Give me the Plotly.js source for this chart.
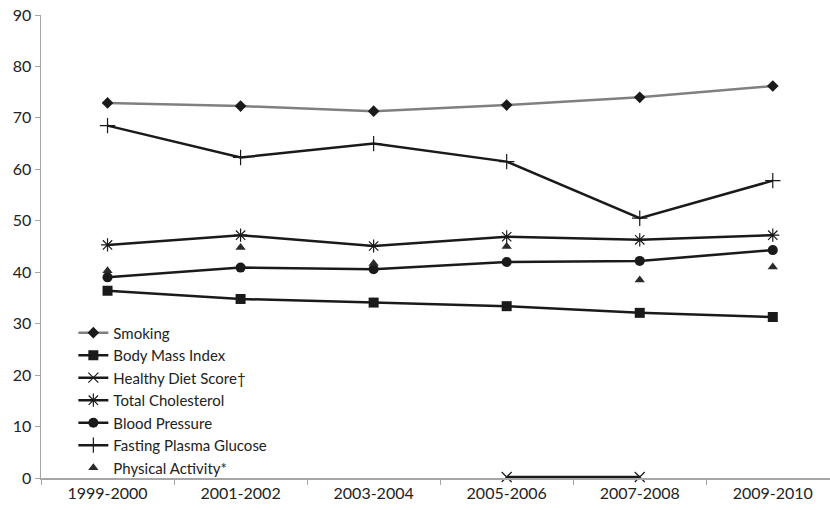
<!DOCTYPE html>
<html><head><meta charset="utf-8">
<script src="https://cdn.plot.ly/plotly-3.0.1.min.js"></script>
<style>html,body{margin:0;padding:0;background:#fff}#c{width:830px;height:510px}</style>
</head><body><div id="c"></div>
<script>
const periods = ["1999-2000","2001-2002","2003-2004","2005-2006","2007-2008","2009-2010"];
const smoking = [72.9, 72.3, 71.3, 72.5, 74.0, 76.2];
const bodyMassIndex = [36.4, 34.8, 34.1, 33.4, 32.1, 31.3];
const healthyDietScore = [null, null, null, 0.2, 0.2, null];
const totalCholesterol = [45.3, 47.2, 45.1, 46.9, 46.3, 47.2];
const bloodPressure = [39.0, 40.9, 40.6, 42.0, 42.2, 44.3];
const fastingPlasmaGlucose = [68.5, 62.3, 65.0, 61.5, 50.5, 57.8];
const physicalActivity = [40.3, 44.8, 41.7, 45.0, 38.5, 41.0];

const font = "Lato, 'Open Sans', sans-serif";
const blk = "#1a1a1a";
function line(name, y, sym, size, lineColor, markerColor, open) {
  return {
    type: "scatter", mode: "lines+markers", name: name, x: periods, y: y,
    line: {color: lineColor, width: 2.5},
    marker: {symbol: sym, size: size, color: markerColor,
             line: {color: markerColor, width: open ? 1.2 : 0}},
    connectgaps: false, cliponaxis: false
  };
}
const data = [
  line("Smoking", smoking, "diamond", 9, "#808080", blk, false),
  line("Body Mass Index", bodyMassIndex, "square", 10, blk, blk, false),
  line("Healthy Diet Score†", healthyDietScore, "x-thin-open", 10, blk, blk, true),
  line("Total Cholesterol", totalCholesterol, "asterisk-open", 11, blk, blk, true),
  line("Blood Pressure", bloodPressure, "circle", 10, blk, blk, false),
  line("Fasting Plasma Glucose", fastingPlasmaGlucose, "cross-thin-open", 11, blk, blk, true),
  {type: "scatter", mode: "markers", name: "Physical Activity*", x: periods, y: physicalActivity,
   marker: {symbol: "triangle-up", size: 9, color: "#2a2a2a"}, cliponaxis: false}
];
const layout = {
  width: 830, height: 510,
  margin: {l: 41, r: 0, t: 15, b: 32},
  paper_bgcolor: "#fff", plot_bgcolor: "#fff",
  font: {family: font, size: 16, color: "#222"},
  showlegend: true,
  legend: {x: 0.041, y: 0.349, xanchor: "left", yanchor: "top",
           bgcolor: "rgba(0,0,0,0)", font: {family: font, size: 15, color: "#222"},
           tracegroupgap: 0},
  xaxis: {type: "category", range: [-0.5, 5.43], showgrid: false, zeroline: false,
          showline: true, linecolor: "#a6a6a6", linewidth: 1.5,
          ticks: "outside", tickson: "boundaries", ticklen: 5, tickcolor: "#a6a6a6",
          tickfont: {family: font, size: 16, color: "#222"}, fixedrange: true},
  yaxis: {range: [0, 90], dtick: 10, showgrid: false, zeroline: false,
          showline: true, linecolor: "#a6a6a6", linewidth: 1.5,
          ticks: "outside", ticklen: 5, tickcolor: "#a6a6a6",
          tickfont: {family: font, size: 16, color: "#222"}, fixedrange: true}
};
Plotly.newPlot("c", data, layout, {displayModeBar: false, staticPlot: true});
</script>
</body></html>
